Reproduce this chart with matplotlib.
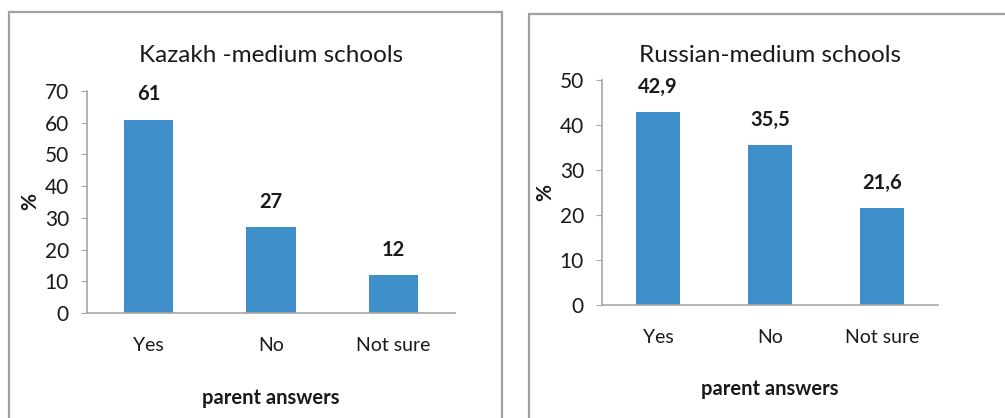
import matplotlib.pyplot as plt
from matplotlib.patches import Rectangle

# data
categories = ['Yes', 'No', 'Not sure']
kazakh_values = [61, 27, 12]
kazakh_labels = ['61', '27', '12']
russian_values = [42.9, 35.5, 21.6]
russian_labels = ['42,9', '35,5', '21,6']

plt.rcParams['font.family'] = ['Lato', 'DejaVu Sans']

W, H = 1005, 418
fig = plt.figure(figsize=(W / 100, H / 100), dpi=100)

bar_color = '#3F8FCB'
spine_color = '#A6A6A6'
text_color = '#1a1a1a'


def px_axes(left, top, right, bottom):
    return fig.add_axes([left / W, 1 - bottom / H, (right - left) / W, (bottom - top) / H])


def panel_border(left, top, right, bottom):
    fig.patches.append(Rectangle((left / W, 1 - bottom / H), (right - left) / W, (bottom - top) / H,
                                 transform=fig.transFigure, fill=False,
                                 edgecolor='#A0A0A0', linewidth=1.6, zorder=0))


def draw_panel(ax, values, labels, title, ymax, width, xlabel_pad, title_pad):
    x = range(len(categories))
    ax.bar(x, values, width=width, color=bar_color)
    ax.set_xlim(-0.5, len(categories) - 0.5)
    ax.set_ylim(0, ymax)
    ax.set_yticks(range(0, ymax + 1, 10))
    ax.set_xticks(list(x))
    ax.set_xticklabels(categories)
    for i, (v, s) in enumerate(zip(values, labels)):
        ax.annotate(s, (i, v), xytext=(0, 11), textcoords='offset points',
                    ha='center', va='bottom', fontsize=14.5, fontweight='bold', color=text_color)
    for side in ['top', 'right']:
        ax.spines[side].set_visible(False)
    for side in ['left', 'bottom']:
        ax.spines[side].set_color(spine_color)
        ax.spines[side].set_linewidth(1.2)
    ax.tick_params(axis='y', length=4, color=spine_color, labelsize=15, pad=9, labelcolor=text_color)
    ax.tick_params(axis='x', length=0, labelsize=14, pad=17, labelcolor=text_color)
    ax.set_xlabel('parent answers', fontsize=14.5, fontweight='bold', labelpad=xlabel_pad, color=text_color)
    ax.set_ylabel('%', fontsize=15, fontweight='bold', labelpad=3, color=text_color)
    ax.set_title(title, fontsize=17.5, color=text_color, pad=title_pad)


panel_border(9, 12, 502, 425)
panel_border(529, 14, 1012, 425)

ax1 = px_axes(87, 91, 455, 313)
draw_panel(ax1, kazakh_values, kazakh_labels, 'Kazakh -medium schools', 70, 0.4, 25, 21)

ax2 = px_axes(602, 80, 938, 305)
draw_panel(ax2, russian_values, russian_labels, 'Russian-medium schools', 50, 0.39, 24, 13)

fig.savefig('out.png', dpi=100)
